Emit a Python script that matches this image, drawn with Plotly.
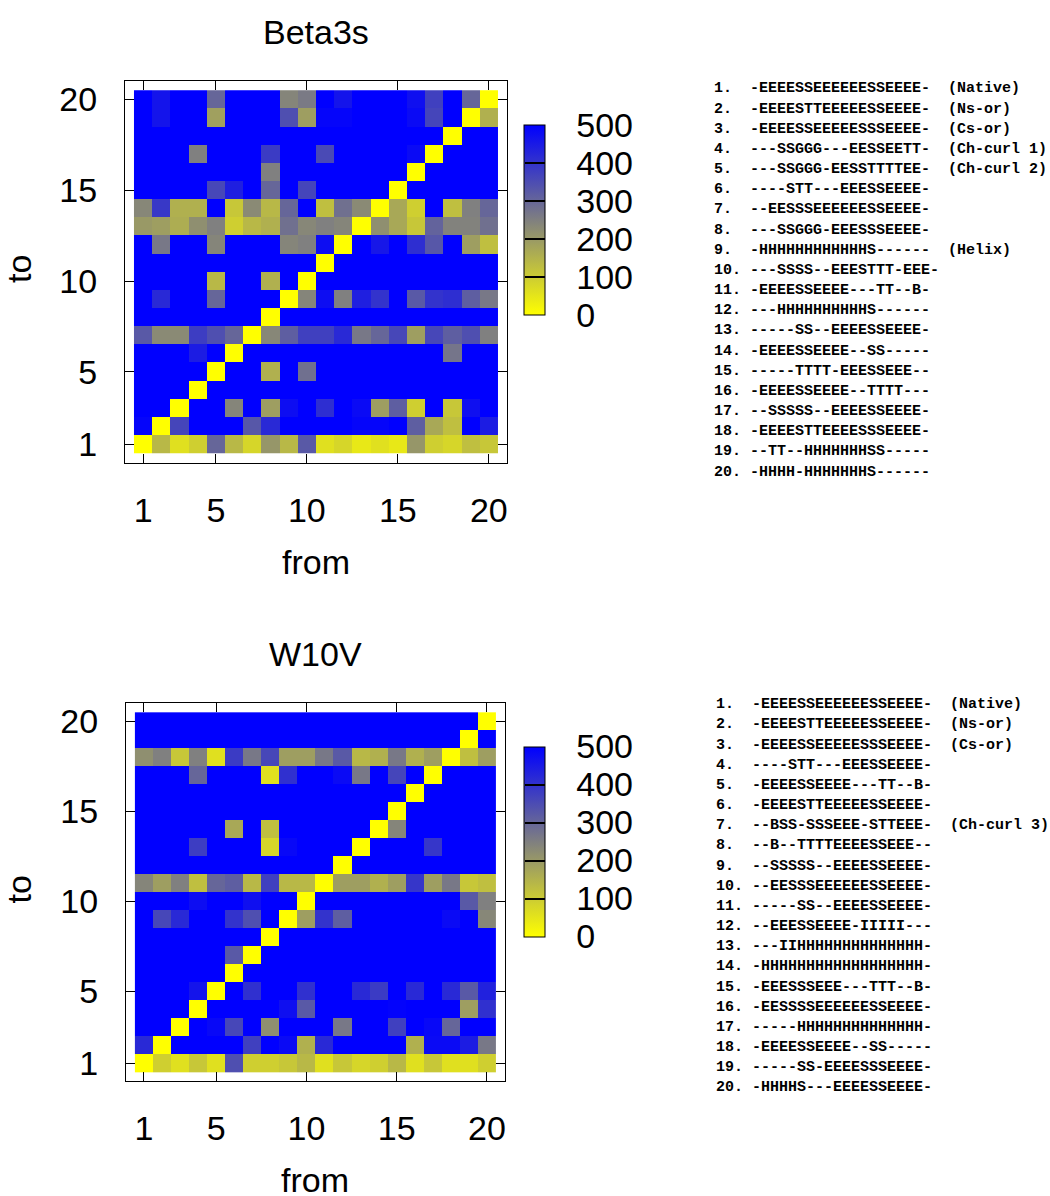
import plotly.graph_objects as go

# ---------------- data ----------------
from_vals = list(range(1, 21))
to_vals = list(range(1, 21))
axis_ticks = [1, 5, 10, 15, 20]
cbar_ticks = [0, 100, 200, 300, 400, 500]
cbar_inner_ticks = [100, 200, 300, 400]

# rows: to = 1 .. 20 ; columns: from = 1 .. 20
beta3s_z = [
    [0, 140, 60, 95, 300, 140, 80, 205, 140, 325, 60, 80, 45, 60, 45, 205, 95, 80, 125, 110],
    [490, 0, 365, 500, 500, 500, 330, 420, 500, 500, 500, 500, 490, 490, 500, 315, 170, 125, 500, 445],
    [500, 500, 0, 500, 500, 240, 500, 190, 475, 500, 410, 500, 480, 190, 315, 95, 500, 110, 470, 500],
    [500, 500, 500, 0, 500, 500, 500, 500, 500, 500, 500, 500, 500, 500, 500, 500, 500, 500, 500, 500],
    [500, 500, 500, 500, 0, 500, 500, 155, 500, 280, 500, 500, 500, 500, 500, 500, 500, 500, 500, 500],
    [500, 500, 500, 445, 500, 0, 500, 500, 500, 500, 500, 500, 500, 500, 500, 500, 500, 270, 500, 500],
    [325, 230, 230, 380, 345, 300, 0, 235, 315, 375, 375, 420, 265, 300, 360, 190, 360, 315, 345, 250],
    [500, 500, 500, 500, 500, 500, 500, 0, 500, 500, 500, 500, 500, 500, 500, 500, 500, 500, 500, 500],
    [500, 420, 500, 500, 300, 500, 500, 500, 0, 240, 475, 250, 440, 400, 500, 325, 400, 410, 315, 265],
    [500, 500, 500, 500, 140, 500, 500, 155, 500, 0, 500, 500, 500, 500, 500, 500, 500, 500, 500, 500],
    [500, 500, 500, 500, 500, 500, 500, 500, 500, 500, 0, 500, 500, 500, 500, 500, 500, 500, 500, 500],
    [500, 265, 500, 500, 240, 500, 500, 500, 240, 250, 475, 0, 500, 455, 500, 410, 330, 500, 190, 125],
    [200, 190, 160, 220, 250, 95, 140, 155, 280, 235, 250, 240, 0, 220, 170, 110, 305, 245, 245, 280],
    [235, 390, 155, 155, 500, 110, 230, 140, 300, 500, 125, 280, 230, 0, 170, 95, 500, 125, 250, 300],
    [500, 500, 500, 500, 360, 440, 500, 300, 500, 365, 500, 500, 500, 500, 0, 500, 500, 500, 500, 500],
    [500, 500, 500, 500, 500, 500, 500, 250, 500, 500, 500, 500, 500, 500, 500, 0, 500, 500, 500, 500],
    [500, 500, 500, 250, 500, 500, 500, 385, 500, 500, 355, 500, 500, 500, 500, 480, 0, 500, 500, 500],
    [500, 500, 500, 500, 500, 500, 500, 500, 500, 500, 500, 500, 500, 500, 500, 500, 500, 0, 500, 500],
    [500, 460, 500, 500, 186, 500, 500, 500, 345, 190, 490, 490, 500, 500, 500, 480, 365, 500, 0, 155],
    [500, 460, 500, 500, 300, 500, 500, 500, 240, 260, 500, 460, 500, 500, 500, 470, 375, 500, 300, 0],
]

w10v_z = [
    [0, 95, 60, 110, 60, 345, 95, 95, 110, 140, 60, 110, 80, 95, 140, 60, 110, 60, 60, 95],
    [420, 0, 500, 500, 500, 500, 375, 500, 480, 155, 420, 500, 500, 500, 500, 155, 480, 480, 445, 265],
    [500, 500, 0, 500, 485, 360, 500, 220, 500, 500, 500, 265, 500, 500, 375, 500, 485, 300, 500, 500],
    [500, 500, 500, 0, 500, 500, 500, 500, 470, 325, 500, 500, 500, 500, 495, 500, 500, 500, 190, 405],
    [500, 500, 500, 460, 0, 500, 405, 500, 500, 405, 500, 500, 420, 385, 500, 420, 500, 420, 325, 435],
    [500, 500, 500, 500, 500, 0, 500, 500, 500, 500, 500, 500, 500, 500, 500, 500, 500, 500, 500, 500],
    [500, 500, 500, 500, 500, 325, 0, 500, 500, 500, 500, 500, 500, 500, 500, 500, 500, 500, 500, 500],
    [500, 500, 500, 500, 500, 500, 500, 0, 500, 500, 500, 500, 500, 500, 500, 500, 500, 500, 500, 500],
    [500, 360, 420, 500, 500, 400, 345, 500, 0, 190, 400, 315, 500, 500, 500, 500, 500, 480, 500, 235],
    [500, 500, 500, 475, 500, 500, 470, 500, 500, 0, 500, 500, 500, 500, 500, 500, 500, 500, 325, 250],
    [240, 190, 250, 125, 300, 315, 140, 375, 140, 140, 0, 190, 190, 155, 190, 395, 190, 265, 110, 125],
    [500, 500, 500, 500, 500, 500, 500, 500, 500, 500, 500, 0, 500, 500, 500, 500, 500, 500, 500, 500],
    [500, 500, 500, 380, 500, 500, 500, 80, 485, 500, 500, 500, 0, 500, 500, 500, 395, 500, 500, 500],
    [500, 500, 500, 500, 500, 170, 500, 125, 500, 500, 500, 500, 500, 0, 240, 500, 500, 500, 500, 500],
    [500, 500, 500, 500, 500, 500, 500, 500, 500, 500, 500, 500, 500, 500, 0, 500, 500, 500, 500, 500],
    [500, 500, 500, 500, 500, 500, 500, 500, 500, 500, 500, 500, 500, 500, 500, 0, 500, 500, 500, 500],
    [500, 500, 500, 300, 500, 500, 500, 60, 405, 500, 500, 480, 265, 500, 365, 500, 0, 500, 500, 500],
    [220, 250, 110, 250, 60, 385, 265, 360, 190, 190, 265, 325, 140, 155, 265, 155, 190, 0, 125, 190],
    [500, 500, 500, 500, 500, 500, 500, 500, 500, 500, 500, 500, 500, 500, 500, 500, 500, 500, 0, 500],
    [500, 500, 500, 500, 500, 500, 500, 500, 500, 500, 500, 500, 500, 500, 500, 500, 500, 500, 500, 0],
]

beta3s_ss = [
    "-EEEESSEEEEEESSEEEE-", "-EEEESTTEEEEESSEEEE-", "-EEEESSEEEEESSSEEEE-",
    "---SSGGG---EESSEETT-", "---SSGGG-EESSTTTTEE-", "----STT---EEESSEEEE-",
    "--EESSSEEEEEESSEEEE-", "---SSGGG-EEESSSEEEE-", "-HHHHHHHHHHHHS------",
    "---SSSS--EEESTTT-EEE-", "-EEEESSEEEE---TT--B-", "---HHHHHHHHHHS------",
    "-----SS--EEEESSEEEE-", "-EEEESSEEEE--SS-----", "-----TTTT-EEESSEEE--",
    "-EEEESSEEEE--TTTT---", "--SSSSS--EEEESSEEEE-", "-EEEESTTEEEESSSEEEE-",
    "--TT--HHHHHHHSS-----", "-HHHH-HHHHHHHS------",
]
beta3s_tags = {1: "(Native)", 2: "(Ns-or)", 3: "(Cs-or)", 4: "(Ch-curl 1)",
               5: "(Ch-curl 2)", 9: "(Helix)"}

w10v_ss = [
    "-EEEESSEEEEEESSEEEE-", "-EEEESTTEEEEESSEEEE-", "-EEEESSEEEEESSSEEEE-",
    "----STT---EEESSEEEE-", "-EEEESSEEEE---TT--B-", "-EEEESTTEEEEESSEEEE-",
    "--BSS-SSSEEE-STTEEE-", "--B--TTTTEEEESSEEE--", "--SSSSS--EEEESSEEEE-",
    "--EESSSEEEEEESSEEEE-", "-----SS--EEEESSEEEE-", "--EEESSEEEE-IIIII---",
    "---IIHHHHHHHHHHHHHH-", "-HHHHHHHHHHHHHHHHHH-", "-EEESSSEEE---TTT--B-",
    "-EESSSSEEEEEESSEEEE-", "-----HHHHHHHHHHHHHH-", "-EEEESSEEEE--SS-----",
    "-----SS-EEEESSSEEEE-", "-HHHHS---EEEESSEEEE-",
]
w10v_tags = {1: "(Native)", 2: "(Ns-or)", 3: "(Cs-or)", 7: "(Ch-curl 3)"}

titles = ["Beta3s", "W10V"]

# ---------------- layout helpers ----------------
W, H = 1050, 1196
def px(x):
    return x / W
def py(y):
    return 1 - y / H

SANS = "Liberation Sans, Arial, Helvetica, sans-serif"
MONO = "Liberation Mono, Courier New, monospace"
FS = 34
colorscale = [[0.0, "#FFFF00"], [1.0, "#0000FF"]]
clear_scale = [[0.0, "rgba(0,0,0,0)"], [1.0, "rgba(0,0,0,0)"]]

panels = [
    dict(z=beta3s_z, ss=beta3s_ss, tags=beta3s_tags, title=titles[0],
         xdom=(125, 507.5), ydom=(80.3, 462.5), cb_top=124, list_x=714, list_y0=88),
    dict(z=w10v_z, ss=w10v_ss, tags=w10v_tags, title=titles[1],
         xdom=(126, 505.5), ydom=(703.5, 1082.3), cb_top=747, list_x=716, list_y0=705),
]

fig = go.Figure()
annotations = []
CB_LEN = 190
CB_THICK = 21

for i, p in enumerate(panels):
    sfx = "" if i == 0 else str(i + 1)
    xa, ya = "x" + sfx, "y" + sfx
    cb_common = dict(
        x=px(524), xanchor="left", xpad=0,
        y=py(p["cb_top"] + CB_LEN / 2), yanchor="middle", ypad=0,
        len=CB_LEN, lenmode="pixels", thickness=CB_THICK,
    )
    # transparent copy whose colour bar carries the tick labels (drawn first)
    fig.add_trace(go.Heatmap(
        x=from_vals, y=to_vals, z=p["z"], zmin=0, zmax=500,
        colorscale=clear_scale, xaxis=xa, yaxis=ya, hoverinfo="skip",
        colorbar=dict(**cb_common, outlinewidth=0,
                      tickvals=cbar_ticks, ticks="outside", ticklen=25,
                      tickcolor="rgba(0,0,0,0)",
                      tickfont=dict(family=SANS, size=FS, color="#000000")),
    ))
    # real heatmap; its colour bar carries the inner dash marks
    fig.add_trace(go.Heatmap(
        x=from_vals, y=to_vals, z=p["z"], zmin=0, zmax=500,
        colorscale=colorscale, xaxis=xa, yaxis=ya,
        colorbar=dict(**cb_common, outlinewidth=1, outlinecolor="#000000",
                      tickvals=cbar_inner_ticks, ticks="inside",
                      ticklen=CB_THICK - 1, tickwidth=1.5, tickcolor="#000000",
                      showticklabels=False),
    ))

    axis_common = dict(
        range=[0, 21], tickvals=axis_ticks, ticks="inside", ticklen=9, tickwidth=1,
        tickcolor="#000000", showline=True, linecolor="#000000", linewidth=1,
        mirror="ticks", showgrid=False, zeroline=False,
        tickfont=dict(family=SANS, size=FS, color="#000000"),
    )
    fig.update_layout(**{
        "xaxis" + sfx: dict(axis_common, domain=[px(p["xdom"][0]), px(p["xdom"][1])],
                            anchor=ya, ticklabelstandoff=17),
        "yaxis" + sfx: dict(axis_common, domain=[py(p["ydom"][1]), py(p["ydom"][0])],
                            anchor=xa, ticklabelstandoff=20),
    })

    cx = (p["xdom"][0] + p["xdom"][1]) / 2
    annotations.append(dict(text=p["title"], x=px(cx), y=py(p["ydom"][0] - 49),
                            xref="paper", yref="paper", xanchor="center", yanchor="middle",
                            showarrow=False, font=dict(family=SANS, size=FS, color="#000000")))
    annotations.append(dict(text="from", x=px(cx), y=py(p["ydom"][1] + 99),
                            xref="paper", yref="paper", xanchor="center", yanchor="middle",
                            showarrow=False, font=dict(family=SANS, size=FS, color="#000000")))
    annotations.append(dict(text="to", x=px(19), y=py((p["ydom"][0] + p["ydom"][1]) / 2 - 3),
                            xref="paper", yref="paper", xanchor="center", yanchor="middle",
                            textangle=-90, showarrow=False,
                            font=dict(family=SANS, size=FS, color="#000000")))

    NB = "\u00a0"
    for k, s in enumerate(p["ss"], start=1):
        num = f"{k}."
        line = num + NB * (4 - len(num)) + s
        if k in p["tags"]:
            line += NB * 2 + p["tags"][k]
        annotations.append(dict(text="<b>" + line + "</b>", x=px(p["list_x"]),
                                y=py(p["list_y0"] + (k - 1) * 20.2),
                                xref="paper", yref="paper", xanchor="left", yanchor="middle",
                                showarrow=False, borderpad=0,
                                font=dict(family=MONO, size=15, color="#000000")))

fig.update_layout(
    width=W, height=H, margin=dict(l=0, r=0, t=0, b=0),
    paper_bgcolor="#FFFFFF", plot_bgcolor="#FFFFFF",
    annotations=annotations, showlegend=False,
)

fig.write_html(
    "out.html",
    config={"displayModeBar": False},
    post_script="document.body.style.margin='0';document.body.style.overflow='hidden';",
)
